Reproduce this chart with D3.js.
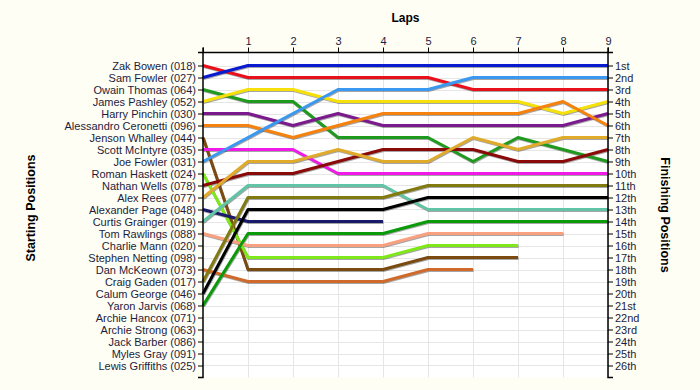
<!DOCTYPE html>
<html>
<head>
<meta charset="utf-8">
<script src="https://cdn.jsdelivr.net/npm/d3@7"></script>
<style>
  body { margin: 0; background: #fffef4; }
  svg { display: block; font-family: "Liberation Sans", Arial, sans-serif; }
  .tick text { fill: #1c1c3c; }
</style>
</head>
<body>
<svg id="chart" width="700" height="390"></svg>
<script>
// starting grid, top to bottom
const drivers = [
  "Zak Bowen (018)", "Sam Fowler (027)", "Owain Thomas (064)", "James Pashley (052)",
  "Harry Pinchin (030)", "Alessandro Ceronetti (096)", "Jenson Whalley (044)",
  "Scott McIntyre (035)", "Joe Fowler (031)", "Roman Haskett (024)", "Nathan Wells (078)",
  "Alex Rees (077)", "Alexander Page (048)", "Curtis Grainger (019)", "Tom Rawlings (088)",
  "Charlie Mann (020)", "Stephen Netting (098)", "Dan McKeown (073)", "Craig Gaden (017)",
  "Calum George (046)", "Yaron Jarvis (068)", "Archie Hancox (071)", "Archie Strong (063)",
  "Jack Barber (086)", "Myles Gray (091)", "Lewis Griffiths (025)"
];

const finishLabels = ["1st","2nd","3rd","4th","5th","6th","7th","8th","9th","10th","11th","12th",
  "13th","14th","15th","16th","17th","18th","19th","20th","21st","22nd","23rd","24th","25th","26th"];

const laps = [1, 2, 3, 4, 5, 6, 7, 8, 9];

// position at lap 0, 1, 2 ... for each driver that completed laps
const positions = {
  "Zak Bowen (018)":            [1, 2, 2, 2, 2, 2, 3, 3, 3, 3],
  "Sam Fowler (027)":           [2, 1, 1, 1, 1, 1, 1, 1, 1, 1],
  "Owain Thomas (064)":         [3, 4, 4, 7, 7, 7, 9, 7, 8, 9],
  "James Pashley (052)":        [4, 3, 3, 4, 4, 4, 4, 4, 5, 4],
  "Harry Pinchin (030)":        [5, 5, 6, 5, 6, 6, 6, 6, 6, 5],
  "Alessandro Ceronetti (096)": [6, 6, 7, 6, 5, 5, 5, 5, 4, 6],
  "Jenson Whalley (044)":       [7, 18, 18, 18, 18, 17, 17, 17],
  "Scott McIntyre (035)":       [8, 8, 8, 10, 10, 10, 10, 10, 10, 10],
  "Joe Fowler (031)":           [9, 7, 5, 3, 3, 3, 2, 2, 2, 2],
  "Roman Haskett (024)":        [10, 17, 17, 17, 17, 16, 16, 16],
  "Nathan Wells (078)":         [11, 10, 10, 9, 8, 8, 8, 9, 9, 8],
  "Alex Rees (077)":            [12, 9, 9, 8, 9, 9, 7, 8, 7, 7],
  "Alexander Page (048)":       [13, 14, 14, 14, 14],
  "Curtis Grainger (019)":      [14, 11, 11, 11, 11, 13, 13, 13, 13, 13],
  "Tom Rawlings (088)":         [15, 16, 16, 16, 16, 15, 15, 15, 15],
  "Dan McKeown (073)":          [18, 19, 19, 19, 19, 18, 18],
  "Craig Gaden (017)":          [19, 12, 12, 12, 12, 11, 11, 11, 11, 11],
  "Calum George (046)":         [20, 13, 13, 13, 13, 12, 12, 12, 12, 12],
  "Yaron Jarvis (068)":         [21, 15, 15, 15, 15, 14, 14, 14, 14, 14]
};

const colors = {
  "Zak Bowen (018)": "#e8101a",
  "Sam Fowler (027)": "#0a1ad0",
  "Owain Thomas (064)": "#1f9a1f",
  "James Pashley (052)": "#f5e00a",
  "Harry Pinchin (030)": "#7a1a8c",
  "Alessandro Ceronetti (096)": "#f5820f",
  "Jenson Whalley (044)": "#7a4a10",
  "Scott McIntyre (035)": "#f01ae8",
  "Joe Fowler (031)": "#3a98f0",
  "Roman Haskett (024)": "#7ee81a",
  "Nathan Wells (078)": "#8a0a0a",
  "Alex Rees (077)": "#e0aa2a",
  "Alexander Page (048)": "#1a1a6a",
  "Curtis Grainger (019)": "#62c4a4",
  "Tom Rawlings (088)": "#f8a080",
  "Dan McKeown (073)": "#d06a2a",
  "Craig Gaden (017)": "#807a10",
  "Calum George (046)": "#000000",
  "Yaron Jarvis (068)": "#0a9a0a"
};

const svg = d3.select("#chart");
const pLeft = 203, pRight = 608, pTop = 52.5, pBottom = 377.5;

const x = d3.scaleLinear().domain([0, 9]).range([pLeft, pRight]);
const y = d3.scaleLinear().domain([0, 27]).range([pTop + 1, pBottom]);
const rows = d3.range(1, 27);

// plot area
svg.append("rect")
    .attr("x", pLeft).attr("y", pTop)
    .attr("width", pRight - pLeft).attr("height", pBottom - pTop)
    .attr("fill", "#ffffff");

// grid
const grid = svg.append("g").attr("stroke", "#e6e6e6").attr("stroke-width", 1);
grid.selectAll("line.h").data(rows).enter().append("line")
    .attr("x1", pLeft).attr("x2", pRight)
    .attr("y1", d => Math.round(y(d)) + 0.5).attr("y2", d => Math.round(y(d)) + 0.5);
grid.selectAll("line.v").data(laps).enter().append("line")
    .attr("y1", pTop).attr("y2", pBottom)
    .attr("x1", d => Math.round(x(d)) + 0.5).attr("x2", d => Math.round(x(d)) + 0.5);

// lines
const line = d3.line()
    .x((d, i) => x(i))
    .y(d => y(d));

const entries = Object.entries(positions);

svg.append("g").selectAll("path")
    .data(entries)
    .enter().append("path")
    .attr("d", d => line(d[1]))
    .attr("transform", "translate(0.6,1)")
    .attr("fill", "none")
    .attr("stroke", "#000")
    .attr("stroke-opacity", 0.35)
    .attr("stroke-width", 3);

svg.append("g").selectAll("path")
    .data(entries)
    .enter().append("path")
    .attr("d", d => line(d[1]))
    .attr("fill", "none")
    .attr("stroke", d => colors[d[0]])
    .attr("stroke-width", 3)
    .attr("stroke-linejoin", "round");

// axes
const yAxisLeft = d3.axisLeft(y)
    .tickValues(rows)
    .tickSize(5)
    .tickPadding(2)
    .tickFormat(d => drivers[d - 1]);

const gl = svg.append("g")
    .attr("transform", `translate(${pLeft},0)`)
    .call(yAxisLeft);

const yAxisRight = d3.axisRight(y)
    .tickValues(rows)
    .tickSize(5)
    .tickPadding(2)
    .tickFormat(d => finishLabels[d - 1]);

const gr = svg.append("g")
    .attr("transform", `translate(${pRight},0)`)
    .call(yAxisRight);

const xAxis = d3.axisTop(x)
    .tickValues(d3.range(0, 10))
    .tickSize(5)
    .tickPadding(3)
    .tickFormat(d => d === 0 ? "" : d);

const gx = svg.append("g")
    .attr("transform", `translate(0,${pTop})`)
    .call(xAxis);

[gl, gr, gx].forEach(g => {
  g.attr("font-family", "'Liberation Sans', Arial, sans-serif").attr("font-size", 11);
  g.selectAll("path.domain").attr("stroke", "#000").attr("stroke-width", 1.5);
  g.selectAll(".tick line").attr("stroke", "#000");
});

// domain path ends as small ticks like the original
gl.select("path.domain").attr("d", `M-5,${pTop}H0V${pBottom}H-5`);
gr.select("path.domain").attr("d", `M5,${pTop}H0V${pBottom}H5`);
gx.select("path.domain").attr("d", `M${pLeft},-5V0H${pRight}V-5`);

// titles
svg.append("text")
    .attr("x", x(4.5)).attr("y", 22)
    .attr("text-anchor", "middle")
    .attr("font-size", 12).attr("font-weight", "bold")
    .text("Laps");

svg.append("text")
    .attr("transform", `translate(35,208) rotate(-90)`)
    .attr("text-anchor", "middle")
    .attr("font-size", 12.5).attr("font-weight", "bold")
    .text("Starting Positions");

svg.append("text")
    .attr("transform", `translate(661,215) rotate(90)`)
    .attr("text-anchor", "middle")
    .attr("font-size", 12.5).attr("font-weight", "bold")
    .text("Finishing Positions");
</script>
</body>
</html>
